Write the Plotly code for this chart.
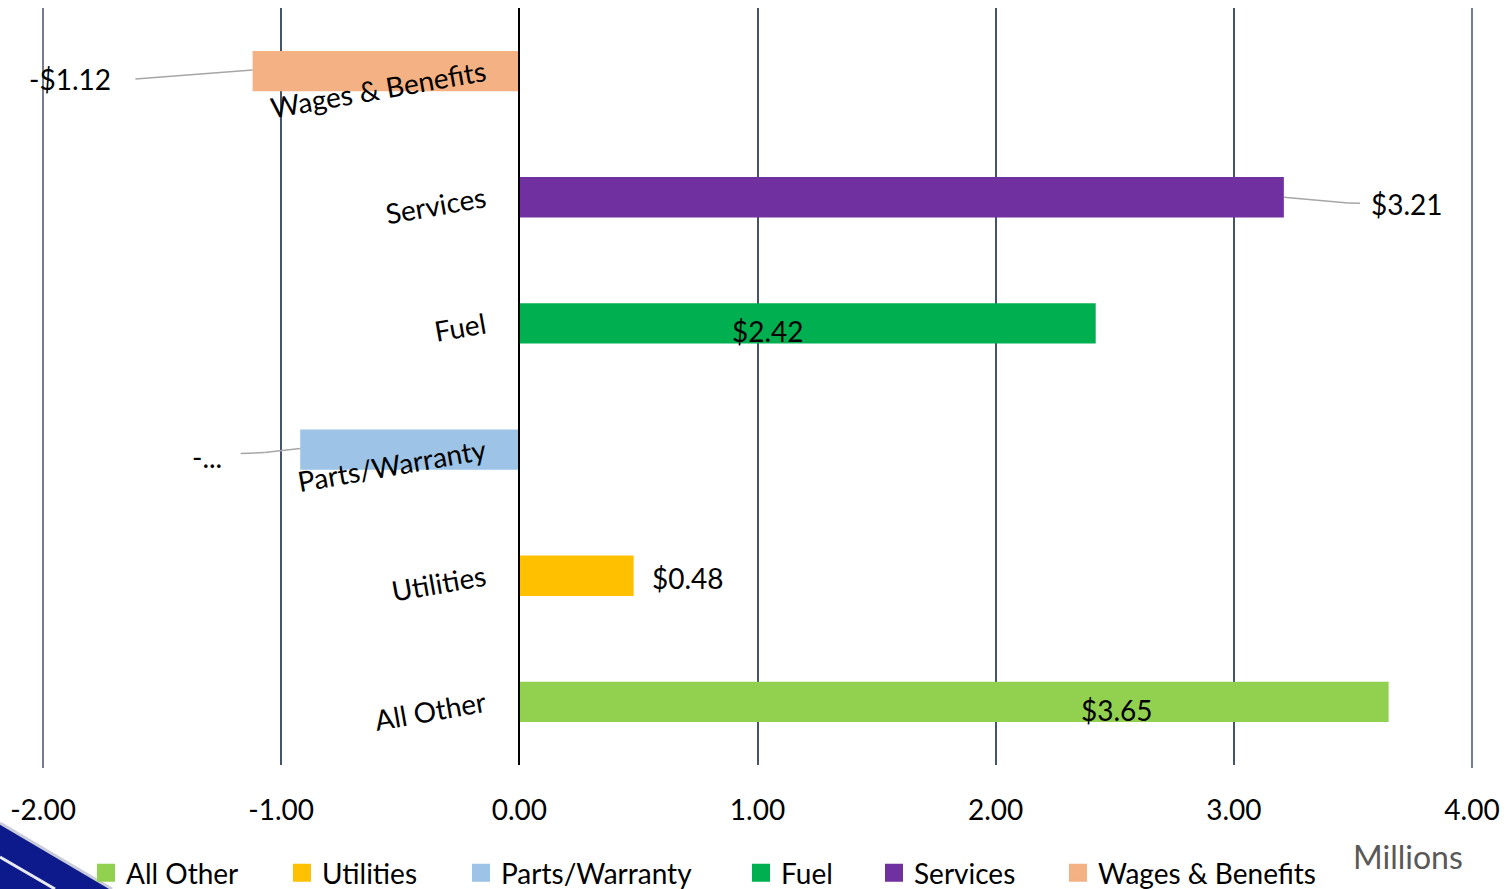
import plotly.graph_objects as go

# ---- data ----
categories = ["All Other", "Utilities", "Parts/Warranty", "Fuel", "Services", "Wages & Benefits"]
values = [3.65, 0.48, -0.92, 2.42, 3.21, -1.12]
colors = ["#92D050", "#FFC000", "#9DC3E6", "#00B050", "#7030A0", "#F4B183"]
value_labels = ["$3.65", "$0.48", "-...", "$2.42", "$3.21", "-$1.12"]
x_ticks = [-2, -1, 0, 1, 2, 3, 4]
x_tick_text = ["-2.00", "-1.00", "0.00", "1.00", "2.00", "3.00", "4.00"]

FONT = "Lato"
W, H = 1508, 889
ML, MR, MT, MB = 43, 36, 8, 124
PW, PH = W - ML - MR, H - MT - MB
GRID = "#44546A"


def px2paper(px, py):
    return (px - ML) / PW, (H - MB - py) / PH


fig = go.Figure()
for cat, val, col in zip(categories, values, colors):
    fig.add_trace(go.Bar(
        x=[val], y=[cat], orientation="h", width=0.32,
        marker=dict(color=col, line=dict(width=0)),
        showlegend=False, hoverinfo="skip",
    ))

# legend entries: one legend per item so spacing matches
legend_px = [86, 282, 461, 741, 874, 1058]
legend_layout = {}
for i, (cat, col, lpx) in enumerate(zip(categories, colors, legend_px)):
    lname = "legend" if i == 0 else f"legend{i + 1}"
    fig.add_trace(go.Scatter(
        x=[None], y=[None], mode="markers", name=cat, legend=lname,
        marker=dict(symbol="square", size=16, color=col, line=dict(color=col, width=2)),
    ))
    lx, ly = px2paper(lpx, 873)
    legend_layout[lname] = dict(orientation="h", x=lx, y=ly, xanchor="left", yanchor="middle",
                                font=dict(family=FONT, size=28, color="#000000"),
                                itemsizing="trace", bgcolor="rgba(0,0,0,0)",
                                borderwidth=0, itemwidth=30)

# data labels: (xanchor, xshift, yshift) in pixels relative to bar end
label_style = {
    "All Other": ("center", -272, -8),
    "Utilities": ("left", 16, -2),
    "Parts/Warranty": ("right", -76, -7),
    "Fuel": ("center", -328, -8),
    "Services": ("left", 85, -7),
    "Wages & Benefits": ("right", -140, -8),
}
for cat, val, txt in zip(categories, values, value_labels):
    xa, xs, ys = label_style[cat]
    fig.add_annotation(x=val, y=cat, xref="x", yref="y", text=txt, showarrow=False,
                       xanchor=xa, yanchor="middle", xshift=xs, yshift=ys,
                       font=dict(family=FONT, size=28, color="#000000"))

# leader lines (data coords, category index for y)
leader_color = "#A6A6A6"
leaders = [
    [(-1.12, 5.008), (-1.612, 4.937)],
    [(3.21, 4.0), (3.48, 3.955), (3.53, 3.953)],
    [(-0.92, 2.008), (-1.07, 1.976), (-1.17, 1.968)],
]
for pts in leaders:
    for (x0, y0), (x1, y1) in zip(pts[:-1], pts[1:]):
        fig.add_shape(type="line", xref="x", yref="y", x0=x0, y0=y0, x1=x1, y1=y1,
                      line=dict(color=leader_color, width=1.5))

# gridlines at the two range ends (plotly omits them at the plot edges)
for xe in (0, 1):
    fig.add_shape(type="line", xref="paper", yref="paper", layer="below",
                  x0=xe, x1=xe, y0=-0.004, y1=1, line=dict(color=GRID, width=1.5))

# decorative corner band (slide background)
p0 = px2paper(0, 823); p1 = px2paper(112, 889); p2 = px2paper(0, 889)
fig.add_shape(type="path", xref="paper", yref="paper", layer="below",
              path=f"M {p0[0]},{p0[1]} L {p1[0]},{p1[1]} L {p2[0]},{p2[1]} Z",
              fillcolor="#0D1A8C", line=dict(width=0))
fig.add_shape(type="line", xref="paper", yref="paper",
              x0=p0[0], y0=p0[1], x1=p1[0], y1=p1[1],
              line=dict(color="#C9CCDB", width=3))
s0 = px2paper(0, 857); s1 = px2paper(55, 889)
fig.add_shape(type="line", xref="paper", yref="paper",
              x0=s0[0], y0=s0[1], x1=s1[0], y1=s1[1],
              line=dict(color="#E8EAF2", width=3))

mx, my = px2paper(1408, 856)
fig.add_annotation(x=mx, y=my, xref="paper", yref="paper", text="Millions",
                   showarrow=False, xanchor="center", yanchor="middle",
                   font=dict(family=FONT, size=32, color="#595959"))

fig.update_layout(
    width=W, height=H,
    margin=dict(l=ML, r=MR, t=MT, b=MB, autoexpand=False),
    paper_bgcolor="white", plot_bgcolor="white",
    barmode="overlay",
    font=dict(family=FONT, size=28, color="#000000"),
    showlegend=True,
    xaxis=dict(range=[-2, 4], tickvals=x_ticks, ticktext=x_tick_text,
               showgrid=True, gridcolor=GRID, gridwidth=1.5,
               zeroline=False, showline=False, ticks="", automargin=False,
               ticklabelstandoff=26,
               tickfont=dict(family=FONT, size=28, color="#000000"), fixedrange=True),
    yaxis=dict(type="category", categoryorder="array", categoryarray=categories,
               range=[-0.5, 5.5], anchor="free", position=2 / 6,
               showline=True, linecolor="#000000", linewidth=1.5,
               showgrid=False, zeroline=False, ticks="", tickangle=-10,
               ticklabelstandoff=28, automargin=False,
               tickfont=dict(family=FONT, size=28, color="#000000"), fixedrange=True),
    **legend_layout,
)

fig.write_html("out.html", config={"displayModeBar": False},
               post_script="document.body.style.margin='0';document.body.style.overflow='hidden';")
